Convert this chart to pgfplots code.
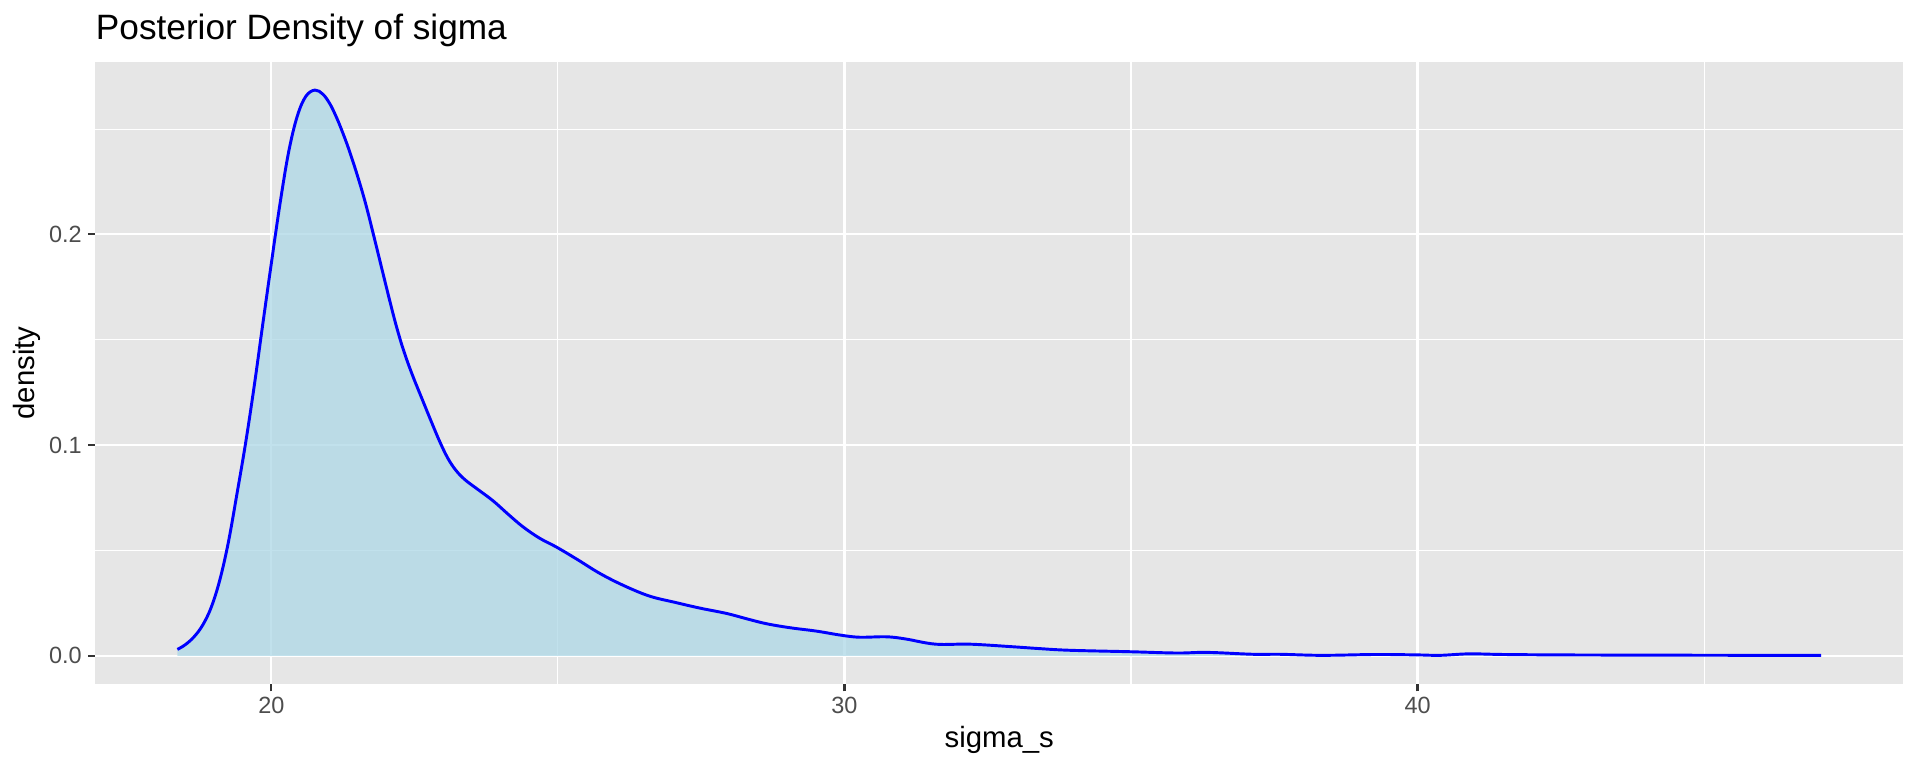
\documentclass[border=0pt]{standalone}
\usepackage{fontspec}
\setmainfont{Liberation Sans}
\usepackage{pgfplots}
\usepackage{pgfplotstable}
\pgfplotsset{compat=1.18}
\definecolor{ggbg}{HTML}{E6E6E6}
\definecolor{ticklab}{HTML}{4D4D4D}
\definecolor{tickcol}{HTML}{333333}
\definecolor{lightblue}{HTML}{ADD8E6}
\pgfplotstableread{
x y
18.36 0.0030
18.50 0.0053
18.65 0.0090
18.80 0.0145
18.95 0.0230
19.10 0.0360
19.25 0.0540
19.40 0.0770
19.55 0.1010
19.70 0.1280
19.85 0.1575
20.00 0.1865
20.15 0.2145
20.30 0.2390
20.45 0.2560
20.60 0.2655
20.76 0.2685
20.90 0.2665
21.02 0.2620
21.12 0.2565
21.22 0.2500
21.35 0.2405
21.50 0.2280
21.64 0.2150
21.78 0.2000
21.92 0.1845
22.07 0.1680
22.18 0.1565
22.30 0.1455
22.45 0.1340
22.65 0.1205
22.80 0.1105
22.94 0.1015
23.08 0.0937
23.22 0.0880
23.38 0.0835
23.60 0.0790
23.87 0.0735
24.13 0.0672
24.39 0.0612
24.68 0.0558
24.98 0.0515
25.35 0.0455
25.73 0.0391
26.15 0.0333
26.60 0.0283
27.05 0.0253
27.48 0.0226
27.94 0.0201
28.30 0.0175
28.64 0.0152
29.05 0.0133
29.51 0.0117
29.93 0.0098
30.26 0.0088
30.73 0.0090
31.06 0.0080
31.59 0.0055
32.19 0.0055
32.92 0.0043
33.40 0.0034
33.93 0.0026
35.00 0.0019
35.80 0.0013
36.33 0.0016
37.13 0.0007
37.60 0.0007
38.33 0.0002
39.27 0.0006
40.00 0.0004
40.39 0.0002
40.90 0.0009
41.50 0.0006
42.50 0.0004
44.00 0.0003
46.00 0.0002
47.04 0.0002
}\densdata
\begin{document}
\begin{tikzpicture}
\path[use as bounding box] (-35.8pt,-31.5pt) rectangle (684.2pt,256.5pt);
\begin{axis}[
  name=ax,
  at={(0pt,0pt)}, anchor=south west,
  scale only axis,
  width=677.8pt, height=233.3pt,
  xmin=16.93, xmax=48.47,
  ymin=-0.0134, ymax=0.2819,
  axis background/.style={fill=ggbg},
  axis line style={draw=none},
  xtick={20,30,40}, minor xtick={25,35,45},
  ytick={0,0.1,0.2}, minor ytick={0.05,0.15,0.25},
  grid=both,
  major grid style={white, line width=0.8pt},
  minor grid style={white, line width=0.4pt},
  tick align=outside,
  major tick length=2.75pt, minor tick length=0pt,
  xtick pos=bottom, ytick pos=left,
  tick style={color=tickcol, line width=0.8pt},
  /pgf/number format/assume math mode=true,
  yticklabel={\pgfmathprintnumber[fixed,fixed zerofill,precision=1]{\tick}},
  xticklabel style={font=\fontsize{8.8}{10}\selectfont, color=ticklab, inner sep=0pt, yshift=-2.1pt},
  yticklabel style={font=\fontsize{8.8}{10}\selectfont, color=ticklab, inner sep=0pt, xshift=-2.2pt},
  scaled y ticks=false,
]
\addplot[draw=none, fill=lightblue, fill opacity=0.75, smooth, tension=0.6] table[x=x,y=y] {\densdata} \closedcycle;
\addplot[color=blue, line width=1.1pt, smooth, tension=0.6] table[x=x,y=y] {\densdata};
\end{axis}
\node[anchor=base west, inner sep=0pt, font=\fontsize{13.2}{15}\selectfont] at ([yshift=8.2pt]ax.north west) {Posterior Density of sigma};
\node[anchor=base, inner sep=0pt, font=\fontsize{11}{13}\selectfont] at ([yshift=-24pt]ax.south) {sigma\_s};
\node[anchor=base, rotate=90, inner sep=0pt, font=\fontsize{11}{13}\selectfont] at ([xshift=-22.7pt]ax.west) {density};
\end{tikzpicture}
\end{document}
